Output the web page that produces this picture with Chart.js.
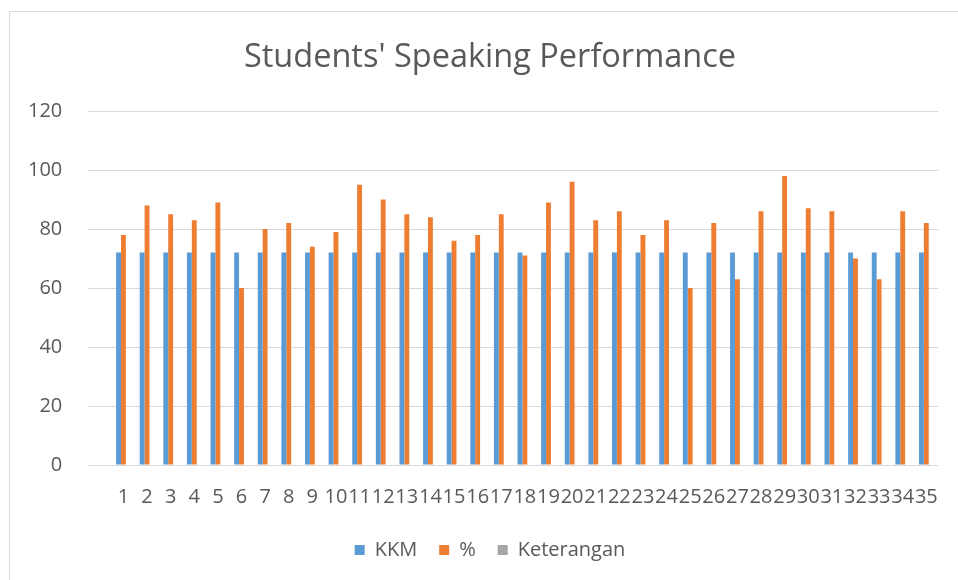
<!DOCTYPE html>
<html>
<head>
<meta charset="utf-8">
<script src="https://cdn.jsdelivr.net/npm/chart.js@4"></script>
<style>
  html, body { margin: 0; padding: 0; background: #fff; overflow: hidden; }
  #wrap { position: relative; width: 958px; height: 580px; }
  #frame { position: absolute; left: 9px; top: 11px; width: 1000px; height: 1000px; border: 1px solid #d9d9d9; }
  #speakingChart { position: absolute; left: 0; top: 0; }
</style>
</head>
<body>
<div id="wrap">
  <div id="frame"></div>
  <canvas id="speakingChart" width="958" height="580"></canvas>
</div>
<script>
// first slot is an empty category (as in the source sheet)
var students = ['', '1', '2', '3', '4', '5', '6', '7', '8', '9', '10',
  '11', '12', '13', '14', '15', '16', '17', '18', '19', '20',
  '21', '22', '23', '24', '25', '26', '27', '28', '29', '30',
  '31', '32', '33', '34', '35'];

var kkm = [null, 72, 72, 72, 72, 72, 72, 72, 72, 72, 72,
  72, 72, 72, 72, 72, 72, 72, 72, 72, 72,
  72, 72, 72, 72, 72, 72, 72, 72, 72, 72,
  72, 72, 72, 72, 72];

var percent = [null, 78, 88, 85, 83, 89, 60, 80, 82, 74, 79,
  95, 90, 85, 84, 76, 78, 85, 71, 89, 96,
  83, 86, 78, 83, 60, 82, 63, 86, 98, 87,
  86, 70, 63, 86, 82];

var keterangan = students.map(function() { return null; });

var yTicks = { min: 0, max: 120, step: 20 };

document.addEventListener('DOMContentLoaded', function() {
  var textColor = '#595959';
  var font = 'Open Sans';

  var ctx = document.getElementById('speakingChart').getContext('2d');
  var speakingChart = new Chart(ctx, {
    type: 'bar',
    data: {
      labels: students,
      datasets: [
        { label: 'KKM', data: kkm, backgroundColor: '#5B9BD5' },
        { label: '%', data: percent, backgroundColor: '#ED7D31' },
        { label: 'Keterangan', data: keterangan, backgroundColor: '#A5A5A5' }
      ]
    },
    options: {
      responsive: false,
      animation: false,
      categoryPercentage: 0.62,
      barPercentage: 1.0,
      layout: { padding: { left: 40, right: 18, top: 0, bottom: 10 } },
      plugins: {
        title: {
          display: true,
          text: "Students' Speaking Performance",
          color: textColor,
          font: { family: font, size: 32.5, weight: 'normal' },
          padding: { top: 38, bottom: 34 }
        },
        legend: {
          position: 'bottom',
          labels: {
            color: textColor,
            font: { family: font, size: 20 },
            boxWidth: 10,
            boxHeight: 10,
            padding: 22
          }
        },
        tooltip: { enabled: false }
      },
      scales: {
        x: {
          grid: { display: false, drawTicks: false },
          border: { display: false },
          ticks: {
            color: textColor,
            font: { family: font, size: 20 },
            autoSkip: false,
            maxRotation: 0,
            minRotation: 0,
            padding: 20
          },
          // shorter axis box: plot reaches lower, legend stays put
          afterFit: function(scale) { scale.height = scale.height - 11; }
        },
        y: {
          min: yTicks.min,
          max: yTicks.max,
          grid: { color: '#d9d9d9', lineWidth: 1, drawTicks: false },
          border: { display: false },
          ticks: {
            stepSize: yTicks.step,
            color: textColor,
            font: { family: font, size: 20 },
            // mirrored so the labels are not clipped to the narrow axis box;
            // negative padding puts them back left of the plot
            mirror: true,
            crossAlign: 'far',
            padding: -60
          },
          afterFit: function(scale) { scale.width = 48; }
        }
      }
    }
  });
});
</script>
</body>
</html>
